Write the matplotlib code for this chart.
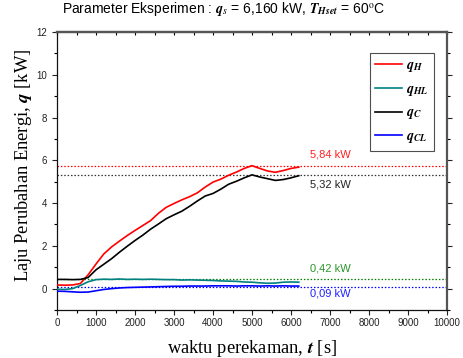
import matplotlib
matplotlib.use("Agg")
import matplotlib.pyplot as plt
from matplotlib.ticker import MultipleLocator

plt.rcParams['font.family'] = ['Liberation Sans', 'DejaVu Sans']
plt.rcParams['mathtext.fontset'] = 'stix'

# ---- data ----
t = [0, 200, 400, 600, 800, 1000, 1200, 1400, 1600, 1800, 2000, 2200, 2400, 2600, 2800,
     3000, 3200, 3400, 3600, 3800, 4000, 4200, 4400, 4600, 4800, 5000, 5200, 5400, 5600,
     5800, 6000, 6200]
q_H = [0.17, 0.16, 0.17, 0.24, 0.65, 1.15, 1.62, 1.95, 2.22, 2.48, 2.72, 2.95, 3.18, 3.52,
       3.80, 3.98, 4.15, 4.30, 4.48, 4.75, 4.98, 5.12, 5.30, 5.45, 5.62, 5.75, 5.62, 5.50,
       5.44, 5.52, 5.62, 5.68]
q_HL = [-0.03, -0.04, 0.00, 0.15, 0.32, 0.42, 0.44, 0.43, 0.45, 0.43, 0.44, 0.43, 0.44, 0.43,
        0.42, 0.42, 0.40, 0.41, 0.40, 0.39, 0.38, 0.36, 0.35, 0.34, 0.31, 0.30, 0.27, 0.25,
        0.26, 0.30, 0.31, 0.30]
q_C = [0.43, 0.43, 0.42, 0.43, 0.52, 0.88, 1.14, 1.40, 1.70, 1.98, 2.25, 2.50, 2.78, 3.02,
       3.27, 3.45, 3.62, 3.85, 4.10, 4.33, 4.45, 4.65, 4.88, 5.02, 5.18, 5.32, 5.22, 5.14,
       5.06, 5.10, 5.18, 5.28]
q_CL = [-0.12, -0.13, -0.15, -0.17, -0.16, -0.10, -0.04, 0.00, 0.03, 0.05, 0.06, 0.07, 0.08,
        0.09, 0.10, 0.11, 0.11, 0.12, 0.12, 0.12, 0.13, 0.13, 0.13, 0.12, 0.13, 0.13, 0.12,
        0.13, 0.12, 0.13, 0.12, 0.12]

ref_values = [5.73, 5.32, 0.43, 0.09]
ref_labels = ['5,84 kW', '5,32 kW', '0,42 kW', '0,09 kW']
ref_label_y = [6.28, 4.87, 0.95, -0.25]

series_names = [r'$\mathbfit{q}_{\mathbfit{H}}$', r'$\mathbfit{q}_{\mathbfit{HL}}$',
                r'$\mathbfit{q}_{\mathbfit{C}}$', r'$\mathbfit{q}_{\mathbfit{CL}}$']
series_colors = ['#ff0000', '#008080', '#000000', '#0000ff']
ref_colors = ['#ff0000', '#333333', '#008000', '#0000ff']
ref_text_colors = ['#ff2020', '#222222', '#2a962a', '#2020ff']

fig = plt.figure(figsize=(4.63, 3.58), dpi=100)
ax = fig.add_axes([57/463, 1-310/358, 390/463, 278/358])

for y, c in zip(ref_values, ref_colors):
    ax.axhline(y, color=c, lw=0.9, ls=(0, (1.2, 1.5)), zorder=1)

for data, name, c in zip([q_H, q_HL, q_C, q_CL], series_names, series_colors):
    ax.plot(t, data, color=c, lw=1.2, label=name, zorder=3)

for lbl, yl, c in zip(ref_labels, ref_label_y, ref_text_colors):
    ax.text(6500, yl, lbl, color=c, fontsize=8, ha='left', va='center')

ax.set_xlim(0, 10000)
ax.set_ylim(-1, 12)
ax.xaxis.set_major_locator(MultipleLocator(1000))
ax.xaxis.set_minor_locator(MultipleLocator(500))
ax.yaxis.set_major_locator(MultipleLocator(2))
ax.yaxis.set_minor_locator(MultipleLocator(1))
ax.tick_params(axis='both', which='major', direction='out', length=3.5, width=0.8,
               labelsize=7, colors='#222222', right=True)
ax.tick_params(axis='both', which='minor', direction='out', length=2, width=0.8, right=True)
ax.tick_params(axis='x', which='major', pad=2)

sec = ax.secondary_xaxis('top')
sec.xaxis.set_major_locator(MultipleLocator(500))
sec.tick_params(direction='in', length=2.5, width=0.8, labeltop=False)
sec.spines['top'].set_color('#555555')
sec.spines['top'].set_linewidth(1.6)

for s in ['left', 'bottom']:
    ax.spines[s].set_color('#111111')
    ax.spines[s].set_linewidth(0.9)
ax.spines['right'].set_color('#555555')
ax.spines['right'].set_linewidth(1.6)
ax.spines['top'].set_color('#555555')
ax.spines['top'].set_linewidth(1.6)

ax.set_xlabel(r'waktu perekaman, $\mathbfit{t}$ [s]', fontsize=13.3,
              family=['Liberation Serif'], labelpad=2)
ax.set_ylabel(r'Laju Perubahan Energi, $\mathbfit{q}$ [kW]', fontsize=13.3,
              family=['Liberation Serif'])
ax.yaxis.set_label_coords(-0.058, 0.52)
ax.xaxis.set_label_coords(0.5, -0.1)

leg = ax.legend(loc='upper right', bbox_to_anchor=(0.966, 0.926), fontsize=10,
                frameon=True, fancybox=False, handlelength=1.9, handletextpad=0.3,
                labelspacing=0.55, borderpad=0.4, borderaxespad=0)
leg.get_frame().set_edgecolor('#222222')
leg.get_frame().set_linewidth(0.8)

fig.text(62/463, 1-13.5/358,
         r'Parameter Eksperimen : $\mathbfit{q}_{s}$ = 6,160 kW, $\mathbfit{T}_{\mathbfit{Hset}}$ = 60$^{\rm o}$C',
         fontsize=10, ha='left', va='baseline')

fig.savefig('out.png', dpi=100)
